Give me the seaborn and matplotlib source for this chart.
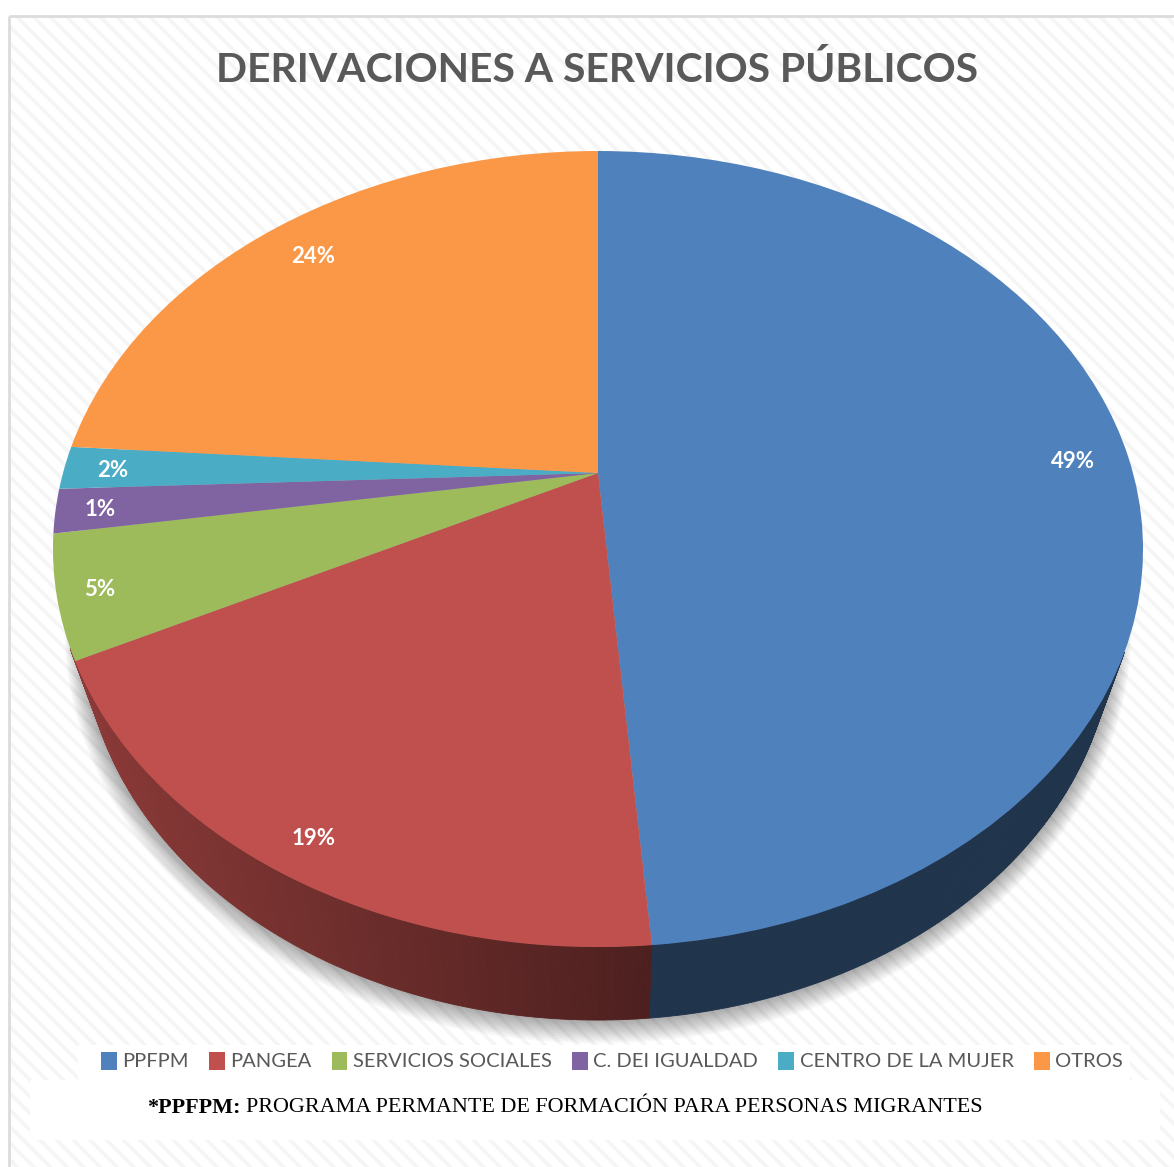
import numpy as np
import matplotlib
matplotlib.use("Agg")
import matplotlib.pyplot as plt
import seaborn as sns
from matplotlib.patches import Rectangle
from matplotlib.transforms import Transform

categories = ["PPFPM", "PANGEA", "SERVICIOS SOCIALES", "C. DEI IGUALDAD", "CENTRO DE LA MUJER", "OTROS"]
values = [48.7, 18.9, 4.95, 1.8, 1.75, 23.9]
pct_labels = ["49%", "19%", "5%", "1%", "2%", "24%"]
colors = ["#4f81bd", "#c0504d", "#9dbb5a", "#8064a2", "#4bacc6", "#fb9847"]
title = "DERIVACIONES A SERVICIOS PÚBLICOS"
note_bold = "*PPFPM:"
note_text = "PROGRAMA PERMANTE DE FORMACIÓN PARA PERSONAS MIGRANTES"

W, H = 1174, 1167
CX, CY = 598, 473   # apex of the pie in pixels
A, B, K = 535, 383.5, 0.191
label_r = [0.895, 0.92, 0.925, 0.92, 0.91, 0.875]


# tilts the flat unit pie so it looks like excel's 3d pie
class Tilt(Transform):
    input_dims = 2
    output_dims = 2

    def transform_non_affine(self, xy):
        xy = np.asarray(xy, dtype=float)
        w = 1 + K * xy[:, 1]
        return np.column_stack([CX + A * xy[:, 0] / w, CY - B * xy[:, 1] / w])


def rim(theta):
    pts = np.column_stack([np.sin(theta), np.cos(theta)])
    return Tilt().transform_non_affine(pts)


def lower_rim(pts):
    # bottom face of the disc, a bit smaller and further down
    return np.column_stack([CX + (pts[:, 0] - CX) * 515 / 545, 629 + (pts[:, 1] - 549) * 391 / 398])


sns.set_theme(style="white")
plt.rcParams["font.family"] = ["Lato", "DejaVu Sans"]
plt.rcParams["hatch.linewidth"] = 2.6

fig = plt.figure(figsize=(W / 100, H / 100), dpi=100, facecolor="white")
ax = fig.add_axes([0, 0, 1, 1])

wedges, texts, autotexts = ax.pie(
    values, colors=sns.color_palette(colors), startangle=90, counterclock=False,
    autopct="%.0f%%", pctdistance=0.9, wedgeprops={"linewidth": 0, "zorder": 3},
    textprops={"color": "white", "fontweight": "bold", "fontsize": 16, "zorder": 5},
)
ax.set_aspect("auto")
ax.set_xlim(0, W)
ax.set_ylim(H, 0)
ax.axis("off")

tilt = Tilt() + ax.transData
for w in wedges:
    w.set_transform(tilt)
for t, lab, r in zip(autotexts, pct_labels, label_r):
    t.set_text(lab)
    t.set_va("center_baseline")
    t.set_position(np.array(t.get_position()) * r / 0.9)
    t.set_transform(tilt)

# background
ax.add_patch(Rectangle((9, 16), W, H, facecolor="white", edgecolor="#f5f5f5", hatch="\\\\", linewidth=0, zorder=0))
ax.add_patch(Rectangle((9, 16), W, H, fill=False, edgecolor="#dcdcdc", linewidth=2, zorder=0.5))

# soft shadow under the disc
all_theta = np.linspace(0, 2 * np.pi, 300)
bottom = lower_rim(rim(all_theta))
for grow in np.linspace(1.06, 1.0, 16):
    xs = CX + (bottom[:, 0] - CX) * (1 + (grow - 1) * 0.6)
    ys = 629 + (bottom[:, 1] - 629) * grow
    ax.fill(xs, ys, color="black", alpha=0.022, linewidth=0, zorder=1)

# side wall, one thin quad per step. the green slice's bit of wall shows red in the original
edges = np.cumsum([0] + values) / np.sum(values) * 2 * np.pi
wall_colors = [colors[0], colors[1], colors[1]]
for i, c in enumerate(wall_colors):
    theta = np.linspace(edges[i], edges[i + 1], int(values[i] * 12) + 2)
    top = rim(theta)
    low = lower_rim(top)
    base = np.array(matplotlib.colors.to_rgb(c))
    for j in range(len(theta) - 1):
        if top[j, 1] < 650:
            continue
        shade = np.clip(0.72 - (top[j, 0] - 76) * 0.32 / 575, 0.40, 0.72)
        col = tuple(base * shade)
        ax.fill([top[j, 0], top[j + 1, 0], low[j + 1, 0], low[j, 0]],
                [top[j, 1], top[j + 1, 1], low[j + 1, 1], low[j, 1]],
                color=col, linewidth=0.6, zorder=2)

ax.text(597, 70, title, ha="center", va="center", color="#595959", fontsize=29.4, fontweight="bold", zorder=6)

# legend band and the note box
ax.add_patch(Rectangle((78, 1045), 1052, 36, facecolor="white", linewidth=0, zorder=4))
ax.add_patch(Rectangle((30, 1080), 1130, 60, facecolor="white", linewidth=0, zorder=4))
ax.legend(wedges, categories, ncol=6, loc="center", bbox_to_anchor=(612 / W, 1 - 1061 / H), frameon=False,
          prop={"family": "Lato", "size": 14.5}, labelcolor="#595959", handlelength=0.78, handleheight=1.0,
          handletextpad=0.28, columnspacing=1.0, borderpad=0, borderaxespad=0)

ax.text(241, 1108, note_bold, ha="right", va="center", family="Liberation Serif", fontweight="bold", fontsize=15.9, color="black", zorder=6)
ax.text(246, 1108, note_text, ha="left", va="center", family="Liberation Serif", fontsize=15.9, color="black", zorder=6)

fig.savefig("out.png", dpi=100)
